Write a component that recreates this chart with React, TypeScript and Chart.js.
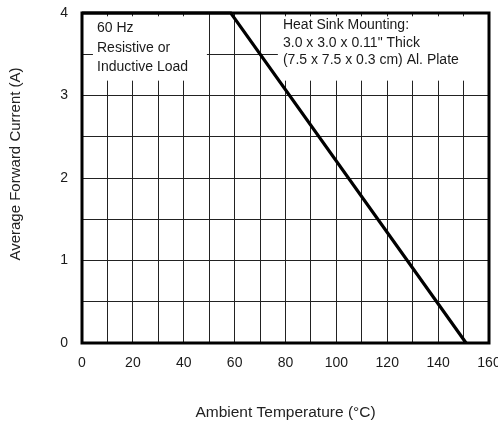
import React, { useEffect, useRef } from "react";
import { Chart, registerables } from "chart.js";

Chart.register(...registerables);

// ---- data ----
const curveTemps = [0, 58.5, 151];
const curveCurrents = [4, 4, 0];
const xLabelTicks = [0, 20, 40, 60, 80, 100, 120, 140, 160];
const yLabelTicks = [0, 1, 2, 3, 4];
const xTitle = "Ambient Temperature (°C)";
const yTitle = "Average Forward Current (A)";
const noteLeftLines = ["60 Hz", "Resistive or", "Inductive Load"];
const noteRightLines = [
  "Heat Sink Mounting:",
  '3.0 x 3.0 x 0.11" Thick',
  "(7.5 x 7.5 x 0.3 cm) Al. Plate",
];

const FONT = "'Liberation Sans', Arial, sans-serif";

// annotation boxes in data units
const notes = [
  { x0: 4.3, x1: 49.1, y0: 3.18, y1: 3.96, tx: 5.9, ty: [3.818, 3.576, 3.345], lines: noteLeftLines },
  { x0: 77, x1: 159.6, y0: 3.18, y1: 3.96, tx: 79, ty: [3.855, 3.636, 3.43], lines: noteRightLines },
];

const notesPlugin = {
  id: "notes",
  beforeDatasetsDraw(chart: any) {
    const { ctx, scales } = chart;
    const xs = scales.x, ys = scales.y;
    ctx.save();
    for (const n of notes) {
      const l = xs.getPixelForValue(n.x0), r = xs.getPixelForValue(n.x1);
      const t = ys.getPixelForValue(n.y1), b = ys.getPixelForValue(n.y0);
      ctx.fillStyle = "#ffffff";
      ctx.fillRect(l, t, r - l, b - t);
      ctx.fillStyle = "#1a1a1a";
      ctx.font = `14px ${FONT}`;
      ctx.textAlign = "left";
      ctx.textBaseline = "middle";
      n.lines.forEach((s, i) => {
        ctx.fillText(s, xs.getPixelForValue(n.tx), ys.getPixelForValue(n.ty[i]));
      });
    }
    ctx.restore();
  },
  afterDatasetsDraw(chart: any) {
    const { ctx, chartArea } = chart;
    ctx.save();
    ctx.strokeStyle = "#000";
    ctx.lineWidth = 3;
    ctx.strokeRect(chartArea.left, chartArea.top, chartArea.right - chartArea.left, chartArea.bottom - chartArea.top);
    // y-axis title
    ctx.translate(16, 164);
    ctx.rotate(-Math.PI / 2);
    ctx.fillStyle = "#222";
    ctx.font = `15px ${FONT}`;
    ctx.textAlign = "center";
    ctx.textBaseline = "middle";
    ctx.fillText(yTitle, 0, 0);
    ctx.restore();
  },
};

export default function App() {
  const ref = useRef<HTMLCanvasElement>(null);
  useEffect(() => {
    document.body.style.margin = "0";
    const c = new Chart(ref.current!, {
      type: "scatter",
      data: {
        datasets: [
          {
            data: curveTemps.map((x, i) => ({ x, y: curveCurrents[i] })),
            showLine: true,
            borderColor: "#000",
            borderWidth: 3.2,
            pointRadius: 0,
            clip: false as any,
          },
        ],
      },
      options: {
        animation: false,
        responsive: false,
        devicePixelRatio: 1,
        layout: { padding: { top: 13, right: 9, left: 0, bottom: 0 } },
        plugins: { legend: { display: false }, tooltip: { enabled: false } },
        scales: {
          x: {
            type: "linear",
            min: 0,
            max: 160,
            border: { display: false },
            grid: { color: "#222", lineWidth: 1, drawTicks: false },
            ticks: {
              stepSize: 10,
              autoSkip: false,
              maxRotation: 0,
              padding: 12,
              color: "#1a1a1a",
              font: { family: FONT, size: 14 },
              callback: (v: any) => (xLabelTicks.includes(v) ? String(v) : ""),
            },
            title: {
              display: true,
              text: xTitle,
              color: "#222",
              font: { family: FONT, size: 15.5 },
              padding: { top: 0, bottom: 3 },
            },
            afterFit: (s: any) => {
              s.height = 82;
              s.paddingLeft = 0;
              s.paddingRight = 0;
            },
          },
          y: {
            type: "linear",
            min: 0,
            max: 4,
            border: { display: false },
            grid: { color: "#222", lineWidth: 1, drawTicks: false },
            ticks: {
              stepSize: 0.5,
              autoSkip: false,
              padding: 14,
              color: "#1a1a1a",
              font: { family: FONT, size: 14 },
              callback: (v: any) => (yLabelTicks.includes(v) ? String(v) : ""),
            },
            afterFit: (s: any) => {
              s.width = 82;
              s.paddingTop = 0;
              s.paddingBottom = 0;
            },
          },
        },
      },
      plugins: [notesPlugin],
    });
    return () => c.destroy();
  }, []);
  return (
    <div style={{ width: 498, height: 425 }}>
      <canvas ref={ref} width={498} height={425} style={{ width: 498, height: 425, display: "block" }} />
    </div>
  );
}
